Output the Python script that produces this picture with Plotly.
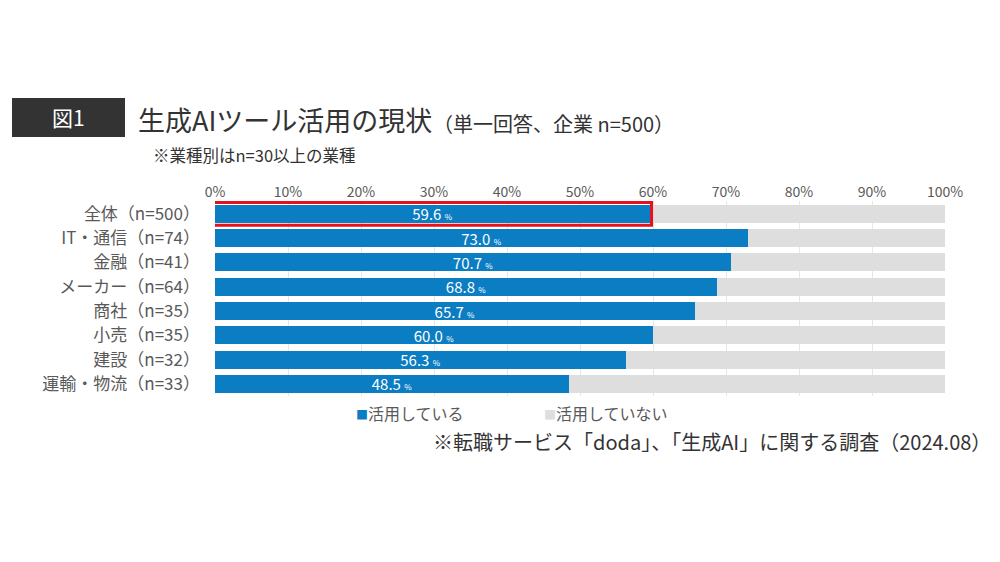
import plotly.graph_objects as go

categories = ["全体（n=500）", "IT・通信（n=74）", "金融（n=41）", "メーカー（n=64）",
              "商社（n=35）", "小売（n=35）", "建設（n=32）", "運輸・物流（n=33）"]
used = [59.6, 73.0, 70.7, 68.8, 65.7, 60.0, 56.3, 48.5]
not_used = [round(100 - v, 1) for v in used]
xticks = [0, 10, 20, 30, 40, 50, 60, 70, 80, 90, 100]
xtick_labels = [f"{t}%" for t in xticks]
series_names = ["活用している", "活用していない"]

W_FIG, H_FIG = 1000, 562
L, R, T, B = 215, 55, 201, 166
PW, PH = W_FIG - L - R, H_FIG - T - B

def px(xp):
    return (xp - L) / PW

def py(yp):
    return 1 - (yp - T) / PH

FONT = "Noto Sans CJK JP"
BLUE = "#0b7dc3"
GREY = "#dedede"
TXT = "#595959"

fig = go.Figure()
fig.add_trace(go.Bar(
    y=categories, x=used, orientation="h", name=series_names[0],
    marker=dict(color=BLUE, line=dict(width=0)),
    text=[f"{v:.1f} <span style='font-size:8px'>%</span>" for v in used],
    textposition="inside", insidetextanchor="middle", textangle=0,
    textfont=dict(color="white", size=15, family=FONT),
    hoverinfo="skip", showlegend=False,
))
fig.add_trace(go.Bar(
    y=categories, x=not_used, orientation="h", name=series_names[1],
    marker=dict(color=GREY, line=dict(width=0)),
    hoverinfo="skip", showlegend=False,
))

shapes = [
    dict(type="rect", xref="paper", yref="paper", x0=px(12), x1=px(125), y0=py(98), y1=py(137),
         fillcolor="#333333", line=dict(width=0), layer="above"),
    dict(type="rect", xref="x", yref="y", x0=-0.4, x1=used[0] + 0.2, y0=-0.47, y1=0.47,
         line=dict(color="#e8101a", width=3), fillcolor="rgba(0,0,0,0)", layer="above"),
]

annotations = [
    dict(text="図1", xref="paper", yref="paper", x=px(68), y=py(117), showarrow=False,
         font=dict(color="white", size=21, family=FONT), xanchor="center", yanchor="middle"),
    dict(text="生成AIツール活用の現状", xref="paper", yref="paper", x=px(136), y=py(120),
         showarrow=False, font=dict(color="#333333", size=27, family=FONT),
         xanchor="left", yanchor="middle"),
    dict(text="（単一回答、企業 n=500）", xref="paper", yref="paper", x=px(431), y=py(123),
         showarrow=False, font=dict(color="#333333", size=20, family=FONT),
         xanchor="left", yanchor="middle"),
    dict(text="※業種別はn=30以上の業種", xref="paper", yref="paper", x=px(151), y=py(155),
         showarrow=False, font=dict(color="#333333", size=16.5, family=FONT),
         xanchor="left", yanchor="middle"),
    dict(text="※転職サービス「doda」、「生成AI」に関する調査（2024.08）", xref="paper", yref="paper",
         x=px(993), y=py(441), showarrow=False, font=dict(color="#333333", size=20, family=FONT),
         xanchor="right", yanchor="middle"),
    dict(text=f"<span style='color:{BLUE};font-size:12px'>■</span>{series_names[0]}",
         xref="paper", yref="paper", x=px(354), y=py(413), showarrow=False,
         font=dict(color=TXT, size=16, family=FONT), xanchor="left", yanchor="middle"),
    dict(text=f"<span style='color:{GREY};font-size:12px'>■</span>{series_names[1]}",
         xref="paper", yref="paper", x=px(542), y=py(413), showarrow=False,
         font=dict(color=TXT, size=16, family=FONT), xanchor="left", yanchor="middle"),
]

fig.update_layout(
    width=W_FIG, height=H_FIG,
    margin=dict(l=L, r=R, t=T, b=B, pad=0),
    paper_bgcolor="white", plot_bgcolor="white",
    barmode="stack", bargap=0.26,
    font=dict(family=FONT, color=TXT),
    showlegend=False,
    uniformtext=dict(minsize=15, mode="show"),
    xaxis=dict(range=[0, 100], side="top", tickvals=xticks, ticktext=xtick_labels,
               showgrid=True, gridcolor="#e6e6e6", gridwidth=1, zeroline=False,
               showline=False, ticks="", tickfont=dict(size=14, color=TXT, family=FONT),
               fixedrange=True),
    yaxis=dict(autorange="reversed", showgrid=False, showline=False, ticks="",
               tickfont=dict(size=17, color=TXT, family=FONT), ticklabelstandoff=14,
               fixedrange=True),
    shapes=shapes, annotations=annotations,
)

fig.write_html("out.html")
